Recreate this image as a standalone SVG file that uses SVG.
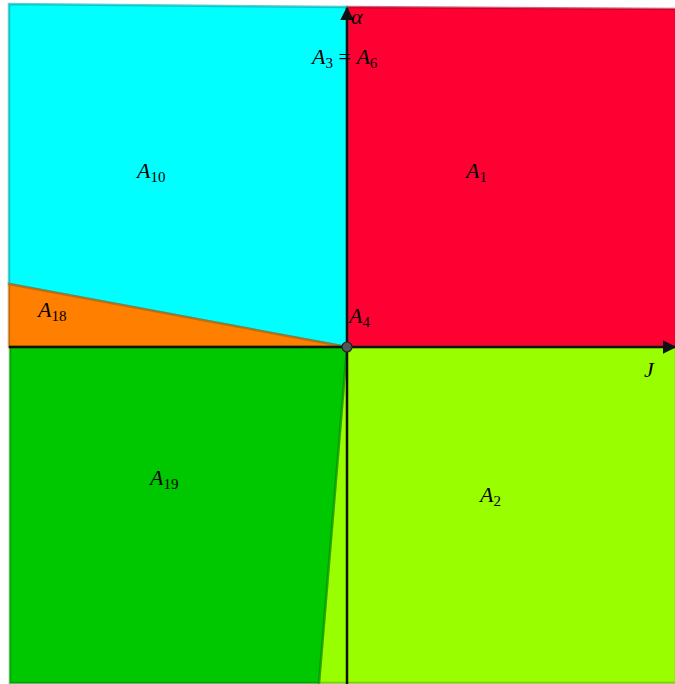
<svg xmlns="http://www.w3.org/2000/svg" width="675" height="684" viewBox="0 0 675 684">
<style>
.r{stroke-width:2.5;stroke-opacity:0.6}
.lbl{font-family:"Liberation Serif","DejaVu Serif",serif;font-size:22px;fill:#000}
.it{font-style:italic}
.sub{font-size:15px}
.ax{stroke:#111;stroke-width:2.5;fill:none}
</style>
<defs>
<marker id="arr" viewBox="0 0 10 10" refX="9" refY="5" markerWidth="5.5" markerHeight="6" orient="auto" markerUnits="strokeWidth">
<path d="M0,0 L10,5 L0,10 Z" fill="#111"/>
</marker>
</defs>
<rect width="675" height="684" fill="#fff"/>
<g id="A1"><polygon class="r" points="347,7 676,9 676,347 347,347" fill="#ff0033" stroke="#b00024"/></g>
<g id="A10"><polygon class="r" points="9,4 347,7 347,347 9,284" fill="#00ffff" stroke="#00a8a8"/></g>
<g id="A18"><polygon class="r" points="9,284 347,347 9,347" fill="#ff7f00" stroke="#b05800"/></g>
<g id="A2"><polygon class="r" points="347,347 676,347 676,683 319,683" fill="#99ff00" stroke="#6ab000"/></g>
<g id="A19"><polygon class="r" points="10,347 347,347 319,683 10,683" fill="#00c800" stroke="#008a00"/></g>
<g id="axes">
<line class="ax" x1="347" y1="684" x2="347" y2="8" marker-end="url(#arr)"/>
<line class="ax" x1="9" y1="347" x2="675" y2="347" marker-end="url(#arr)"/>
</g>
<g id="A4"><circle cx="347" cy="347" r="5" fill="#555" stroke="#222" stroke-width="1.2"/></g>
<g id="labels">
<text class="lbl" x="137" y="178"><tspan class="it">A</tspan><tspan class="sub" dy="4">10</tspan></text>
<text class="lbl" x="466" y="178"><tspan class="it">A</tspan><tspan class="sub" dy="4">1</tspan></text>
<text class="lbl" x="38" y="317"><tspan class="it">A</tspan><tspan class="sub" dy="4">18</tspan></text>
<text class="lbl" x="349" y="323"><tspan class="it">A</tspan><tspan class="sub" dy="4">4</tspan></text>
<text class="lbl" x="150" y="485"><tspan class="it">A</tspan><tspan class="sub" dy="4">19</tspan></text>
<text class="lbl" x="480" y="502"><tspan class="it">A</tspan><tspan class="sub" dy="4">2</tspan></text>
<text class="lbl it" x="644" y="377">J</text>
<text class="lbl it" x="351" y="24">α</text>
<text class="lbl" x="312" y="64"><tspan class="it">A</tspan><tspan class="sub" dy="4">3</tspan><tspan dy="-4"> = </tspan><tspan class="it">A</tspan><tspan class="sub" dy="4">6</tspan></text>
</g>
</svg>
